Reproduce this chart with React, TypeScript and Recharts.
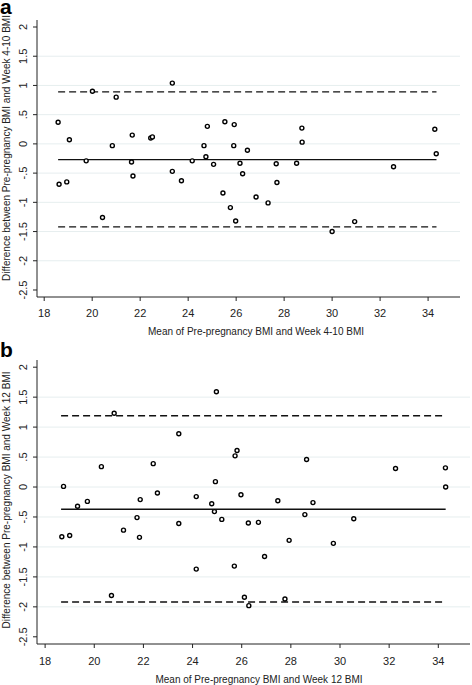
import React from 'react'
import { ComposedChart, Scatter, XAxis, YAxis, ReferenceLine } from 'recharts'

// panel a: pre-pregnancy vs week 4-10
const aMean = [18.58, 18.62, 18.94, 19.05, 19.75, 20.01, 20.43, 20.84, 21.0, 21.64, 21.67, 21.7, 22.44, 22.51, 23.34, 23.34, 23.72, 24.17, 24.66, 24.74, 24.8, 25.06, 25.45, 25.53, 25.76, 25.9, 25.92, 25.98, 26.16, 26.27, 26.47, 26.83, 27.33, 27.67, 27.7, 28.52, 28.74, 28.75, 30.0, 30.94, 32.56, 34.28, 34.34]
const aDiff = [0.37, -0.69, -0.65, 0.07, -0.29, 0.9, -1.26, -0.03, 0.8, -0.31, 0.15, -0.55, 0.1, 0.12, 1.04, -0.47, -0.63, -0.29, -0.03, -0.22, 0.3, -0.35, -0.84, 0.38, -1.09, -0.03, 0.33, -1.32, -0.33, -0.51, -0.11, -0.91, -1.01, -0.34, -0.66, -0.33, 0.27, 0.03, -1.5, -1.33, -0.39, 0.25, -0.17]
const aLimits = [0.89, -0.27, -1.42] // upper, mean, lower
const aSpan = [18.58, 34.35]

// panel b: pre-pregnancy vs week 12
const bMean = [18.68, 18.75, 19.0, 19.32, 19.72, 20.29, 20.7, 20.81, 21.19, 21.74, 21.84, 21.87, 22.4, 22.57, 23.44, 23.44, 24.15, 24.15, 24.78, 24.89, 24.93, 24.97, 25.19, 25.7, 25.73, 25.81, 25.97, 26.11, 26.29, 26.27, 26.68, 26.93, 27.47, 27.76, 27.93, 28.57, 28.64, 28.9, 29.73, 30.56, 32.26, 34.29, 34.3]
const bDiff = [-0.83, 0.01, -0.81, -0.32, -0.24, 0.34, -1.81, 1.23, -0.72, -0.51, -0.84, -0.21, 0.39, -0.1, 0.89, -0.61, -1.37, -0.16, -0.28, -0.41, 0.09, 1.59, -0.54, -1.32, 0.52, 0.61, -0.13, -1.84, -1.98, -0.6, -0.59, -1.16, -0.23, -1.87, -0.89, -0.46, 0.46, -0.26, -0.94, -0.53, 0.31, 0.32, 0.0]
const bLimits = [1.19, -0.37, -1.92]
const bSpan = [18.65, 34.3]

const xTicks = [18, 20, 22, 24, 26, 28, 30, 32, 34]
const yTicks = [2, 1.5, 1, 0.5, 0, -0.5, -1, -1.5, -2, -2.5]
const gridValues = [1.5, 1, 0.5, 0, -0.5, -1, -1.5, -2]

const FONT = '"Liberation Sans", Arial, sans-serif'

const fmtY = (v: number) => String(v).replace('0.', '.')

const YTick = (props: any) => {
  const { x, y, payload } = props
  return (
    <text x={x} y={y} transform={`rotate(-90 ${x} ${y})`} textAnchor="middle" fontSize={11} fill="#222" fontFamily={FONT}>
      {fmtY(payload.value)}
    </text>
  )
}

const Dot = (props: any) => (
  <circle cx={props.cx} cy={props.cy} r={2} fill="#fff" stroke="#000" strokeWidth={1.4} />
)

interface PanelProps {
  xs: number[]
  ys: number[]
  limits: number[]
  span: number[]
  xDomain: [number, number]
  height: number
  margin: { top: number; right: number; left: number; bottom: number }
  tickMargin: number
}

function Panel({ xs, ys, limits, span, xDomain, height, margin, tickMargin }: PanelProps) {
  const data = xs.map((x, i) => ({ x, y: ys[i] }))
  return (
    <ComposedChart width={472} height={height} margin={margin}>
      {gridValues.map(v => (
        <ReferenceLine key={v} y={v} stroke="#e6eeef" strokeWidth={1} />
      ))}
      <XAxis
        type="number"
        dataKey="x"
        domain={xDomain}
        allowDataOverflow
        ticks={xTicks}
        height={30}
        tickSize={4}
        tickMargin={tickMargin}
        stroke="#222"
        tick={{ fontSize: 11, fill: '#222', fontFamily: FONT }}
      />
      <YAxis
        type="number"
        dataKey="y"
        domain={[-2.62, 2.12]}
        allowDataOverflow
        ticks={yTicks}
        width={25}
        tickSize={4}
        tickMargin={6}
        stroke="#222"
        tick={<YTick />}
      />
      <ReferenceLine
        segment={[{ x: span[0], y: limits[0] }, { x: span[1], y: limits[0] }]}
        stroke="#111"
        strokeWidth={1.4}
        strokeDasharray="7 4"
      />
      <ReferenceLine
        segment={[{ x: span[0], y: limits[1] }, { x: span[1], y: limits[1] }]}
        stroke="#111"
        strokeWidth={1.4}
      />
      <ReferenceLine
        segment={[{ x: span[0], y: limits[2] }, { x: span[1], y: limits[2] }]}
        stroke="#111"
        strokeWidth={1.4}
        strokeDasharray="7 4"
      />
      <Scatter data={data} shape={<Dot />} isAnimationActive={false} />
    </ComposedChart>
  )
}

export default function App() {
  return (
    <div style={{ position: 'absolute', left: 0, top: 0, width: 472, height: 685, background: '#fff', fontFamily: FONT }}>
      <div style={{ position: 'absolute', left: 0, top: 0 }}>
        <Panel
          xs={aMean}
          ys={aDiff}
          limits={aLimits}
          span={aSpan}
          xDomain={[17.7, 35.33]}
          height={340}
          margin={{ top: 20, right: 12, left: 12, bottom: 13 }}
          tickMargin={8}
        />
      </div>
      <div style={{ position: 'absolute', left: 0, top: 340 }}>
        <Panel
          xs={bMean}
          ys={bDiff}
          limits={bLimits}
          span={bSpan}
          xDomain={[17.67, 35.29]}
          height={345}
          margin={{ top: 20, right: 2, left: 12, bottom: 11 }}
          tickMargin={9}
        />
      </div>
      <svg width={472} height={685} style={{ position: 'absolute', left: 0, top: 0, pointerEvents: 'none' }}>
        <g fontFamily={FONT} fill="#222">
          <text x={0} y={14} fontSize={21} fontWeight="bold" fill="#000">a</text>
          <text x={10} y={148} fontSize={10} textAnchor="middle" transform="rotate(-90 10 148)">
            Difference between Pre-pregnancy BMI and Week 4-10 BMI
          </text>
          <text x={256} y={335} fontSize={10} textAnchor="middle">
            Mean of Pre-pregnancy BMI and Week 4-10 BMI
          </text>
          <text x={0} y={357} fontSize={21} fontWeight="bold" fill="#000">b</text>
          <text x={10} y={500} fontSize={10} textAnchor="middle" transform="rotate(-90 10 500)">
            Difference between Pre-pregnancy BMI and Week 12 BMI
          </text>
          <text x={259} y={683} fontSize={10} textAnchor="middle">
            Mean of Pre-pregnancy BMI and Week 12 BMI
          </text>
        </g>
      </svg>
    </div>
  )
}
